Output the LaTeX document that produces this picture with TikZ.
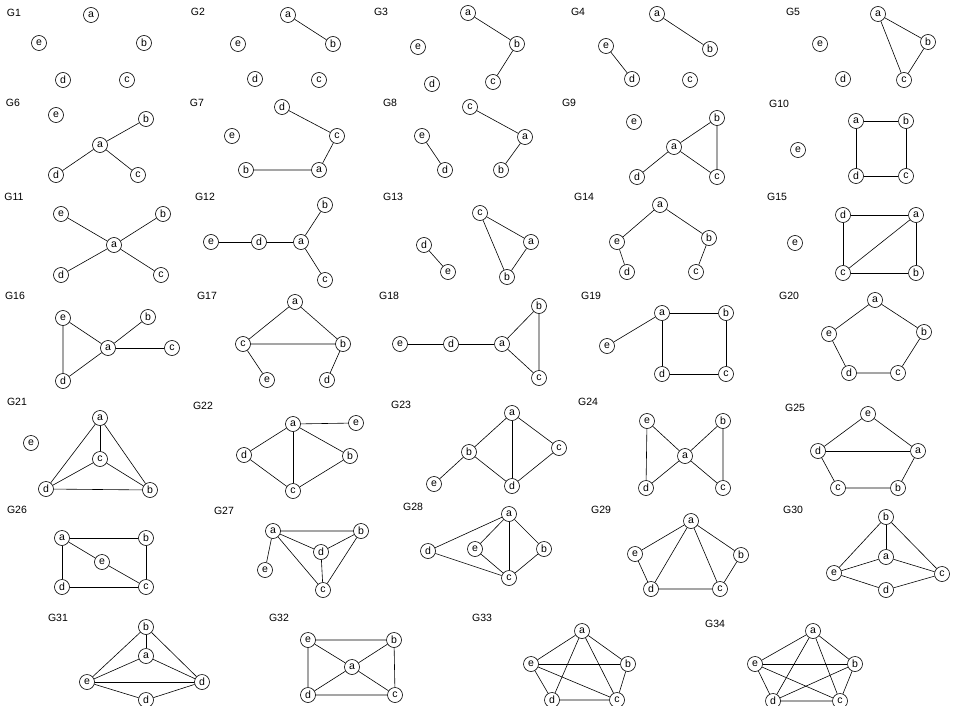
\documentclass[tikz,border=0pt]{standalone}
\usepackage{fontspec}
\setmainfont{Liberation Sans}
\usetikzlibrary{calc}

\tikzset{
  vtx/.style={circle, draw, fill=white, minimum size=15pt, inner sep=0pt, font=\fontsize{10.5}{10.5}\selectfont},
  glabel/.style={font=\fontsize{10.5}{10.5}\selectfont}
}

\begin{document}
\begin{tikzpicture}[x=1pt, y=-1pt, line width=0.6pt]
        \useasboundingbox (0,0) rectangle (953,706);

        % G1
        \node[glabel] (l1) at (14,13) {G1};
        \node[vtx] (g1a) at (91,15) {a};
        \node[vtx] (g1e) at (39,43) {e};
        \node[vtx] (g1b) at (144,43) {b};
        \node[vtx] (g1d) at (63,80) {d};
        \node[vtx] (g1c) at (127,80) {c};

        % G2
        \node[glabel] (l2) at (198,12) {G2};
        \node[vtx] (g2a) at (288,15) {a};
        \node[vtx] (g2e) at (238,44) {e};
        \node[vtx] (g2b) at (333,44) {b};
        \node[vtx] (g2d) at (255,79) {d};
        \node[vtx] (g2c) at (319,80) {c};
        \draw (g2a) -- (g2b);

        % G3
        \node[glabel] (l3) at (381,12) {G3};
        \node[vtx] (g3a) at (468,13) {a};
        \node[vtx] (g3b) at (517,44) {b};
        \node[vtx] (g3e) at (418,47) {e};
        \node[vtx] (g3d) at (432,84) {d};
        \node[vtx] (g3c) at (493,82) {c};
        \draw (g3a) -- (g3b) -- (g3c);

        % G4
        \node[glabel] (l4) at (578,12) {G4};
        \node[vtx] (g4a) at (657,14) {a};
        \node[vtx] (g4e) at (606,46) {e};
        \node[vtx] (g4b) at (710,49) {b};
        \node[vtx] (g4d) at (632,79) {d};
        \node[vtx] (g4c) at (690,80) {c};
        \draw (g4a) -- (g4b);
        \draw (g4e) -- (g4d);

        % G5
        \node[glabel] (l5) at (793,12) {G5};
        \node[vtx] (g5a) at (878,14) {a};
        \node[vtx] (g5b) at (928,42) {b};
        \node[vtx] (g5e) at (820,44) {e};
        \node[vtx] (g5c) at (904,80) {c};
        \node[vtx] (g5d) at (843,79) {d};
        \draw (g5a) -- (g5b) -- (g5c) -- (g5a);

        % G6
        \node[glabel] (l6) at (13,103) {G6};
        \node[vtx] (g6e) at (56,115) {e};
        \node[vtx] (g6b) at (146,119) {b};
        \node[vtx] (g6a) at (100,145) {a};
        \node[vtx] (g6d) at (56,175) {d};
        \node[vtx] (g6c) at (138,175) {c};
        \draw (g6a) -- (g6b);
        \draw (g6a) -- (g6d);
        \draw (g6a) -- (g6c);

        % G7
        \node[glabel] (l7) at (197,103) {G7};
        \node[vtx] (g7d) at (282,107) {d};
        \node[vtx] (g7c) at (337,136) {c};
        \node[vtx] (g7e) at (232,136) {e};
        \node[vtx] (g7b) at (246,170) {b};
        \node[vtx] (g7a) at (319,170) {a};
        \draw (g7d) -- (g7c) -- (g7a) -- (g7b);

        % G8
        \node[glabel] (l8) at (390,103) {G8};
        \node[vtx] (g8c) at (470,107) {c};
        \node[vtx] (g8a) at (525,137) {a};
        \node[vtx] (g8e) at (422,136) {e};
        \node[vtx] (g8d) at (445,170) {d};
        \node[vtx] (g8b) at (501,170) {b};
        \draw (g8c) -- (g8a) -- (g8b);
        \draw (g8e) -- (g8d);

        % G9
        \node[glabel] (l9) at (569,103) {G9};
        \node[vtx] (g9e) at (634,122) {e};
        \node[vtx] (g9b) at (717,118) {b};
        \node[vtx] (g9a) at (674,147) {a};
        \node[vtx] (g9d) at (637,177) {d};
        \node[vtx] (g9c) at (717,177) {c};
        \draw (g9a) -- (g9b) -- (g9c) -- (g9a);
        \draw (g9a) -- (g9d);

        % G10
        \node[glabel] (l10) at (779,104) {G10};
        \node[vtx] (g10a) at (856,121) {a};
        \node[vtx] (g10b) at (906,121) {b};
        \node[vtx] (g10e) at (798,150) {e};
        \node[vtx] (g10d) at (856,176) {d};
        \node[vtx] (g10c) at (906,176) {c};
        \draw (g10a) -- (g10b) -- (g10c) -- (g10d) -- (g10a);

        % G11
        \node[glabel] (l11) at (14,197) {G11};
        \node[vtx] (g11e) at (61,214) {e};
        \node[vtx] (g11b) at (163,214) {b};
        \node[vtx] (g11a) at (114,245) {a};
        \node[vtx] (g11d) at (61,275) {d};
        \node[vtx] (g11c) at (161,275) {c};
        \draw (g11a) -- (g11e);
        \draw (g11a) -- (g11b);
        \draw (g11a) -- (g11d);
        \draw (g11a) -- (g11c);

        % G12
        \node[glabel] (l12) at (205,197) {G12};
        \node[vtx] (g12b) at (325,205) {b};
        \node[vtx] (g12e) at (211,242) {e};
        \node[vtx] (g12d) at (259,242) {d};
        \node[vtx] (g12a) at (301,242) {a};
        \node[vtx] (g12c) at (325,280) {c};
        \draw (g12e) -- (g12d) -- (g12a);
        \draw (g12a) -- (g12b);
        \draw (g12a) -- (g12c);

        % G13
        \node[glabel] (l13) at (393,197) {G13};
        \node[vtx] (g13c) at (480,213) {c};
        \node[vtx] (g13a) at (531,242) {a};
        \node[vtx] (g13d) at (424,245) {d};
        \node[vtx] (g13e) at (448,272) {e};
        \node[vtx] (g13b) at (507,277) {b};
        \draw (g13c) -- (g13a) -- (g13b) -- (g13c);
        \draw (g13d) -- (g13e);

        % G14
        \node[glabel] (l14) at (584,197) {G14};
        \node[vtx] (g14a) at (660,205) {a};
        \node[vtx] (g14e) at (617,242) {e};
        \node[vtx] (g14b) at (709,238) {b};
        \node[vtx] (g14d) at (627,272) {d};
        \node[vtx] (g14c) at (696,272) {c};
        \draw (g14d) -- (g14e) -- (g14a) -- (g14b) -- (g14c);

        % G15
        \node[glabel] (l15) at (777,197) {G15};
        \node[vtx] (g15d) at (843,215) {d};
        \node[vtx] (g15a) at (916,215) {a};
        \node[vtx] (g15e) at (795,243) {e};
        \node[vtx] (g15c) at (843,273) {c};
        \node[vtx] (g15b) at (916,273) {b};
        \draw (g15d) -- (g15a) -- (g15b) -- (g15c) -- (g15d);
        \draw (g15a) -- (g15c);

        % G16
        \node[glabel] (l16) at (15,296) {G16};
        \node[vtx] (g16e) at (63,318) {e};
        \node[vtx] (g16b) at (148,317) {b};
        \node[vtx] (g16a) at (108,348) {a};
        \node[vtx] (g16c) at (172,348) {c};
        \node[vtx] (g16d) at (63,381) {d};
        \draw (g16e) -- (g16a) -- (g16d) -- (g16e);
        \draw (g16a) -- (g16b);
        \draw (g16a) -- (g16c);

        % G17
        \node[glabel] (l17) at (207,296) {G17};
        \node[vtx] (g17a) at (295,302) {a};
        \node[vtx] (g17c) at (243,344) {c};
        \node[vtx] (g17b) at (343,344) {b};
        \node[vtx] (g17e) at (267,380) {e};
        \node[vtx] (g17d) at (327,380) {d};
        \draw (g17a) -- (g17c) -- (g17b) -- (g17a);
        \draw (g17c) -- (g17e);
        \draw (g17b) -- (g17d);

        % G18
        \node[glabel] (l18) at (389,296) {G18};
        \node[vtx] (g18b) at (539,306) {b};
        \node[vtx] (g18e) at (400,344) {e};
        \node[vtx] (g18d) at (451,344) {d};
        \node[vtx] (g18a) at (502,344) {a};
        \node[vtx] (g18c) at (539,378) {c};
        \draw (g18e) -- (g18d) -- (g18a);
        \draw (g18a) -- (g18b) -- (g18c) -- (g18a);

        % G19
        \node[glabel] (l19) at (591,296) {G19};
        \node[vtx] (g19a) at (662,313) {a};
        \node[vtx] (g19b) at (726,313) {b};
        \node[vtx] (g19e) at (607,346) {e};
        \node[vtx] (g19d) at (662,374) {d};
        \node[vtx] (g19c) at (726,374) {c};
        \draw (g19a) -- (g19b) -- (g19c) -- (g19d) -- (g19a);
        \draw (g19a) -- (g19e);

        % G20
        \node[glabel] (l20) at (789,296) {G20};
        \node[vtx] (g20a) at (875,300) {a};
        \node[vtx] (g20e) at (829,334) {e};
        \node[vtx] (g20b) at (924,332) {b};
        \node[vtx] (g20d) at (849,373) {d};
        \node[vtx] (g20c) at (898,373) {c};
        \draw (g20a) -- (g20b) -- (g20c) -- (g20d) -- (g20e) -- (g20a);

        % G21
        \node[glabel] (l21) at (17,402) {G21};
        \node[vtx] (g21a) at (100,418) {a};
        \node[vtx] (g21e) at (31,443) {e};
        \node[vtx] (g21c) at (100,459) {c};
        \node[vtx] (g21d) at (46,489) {d};
        \node[vtx] (g21b) at (150,490) {b};
        \draw (g21a) -- (g21c);
        \draw (g21a) -- (g21d);
        \draw (g21a) -- (g21b);
        \draw (g21c) -- (g21d) -- (g21b) -- (g21c);

        % G22
        \node[glabel] (l22) at (203,406) {G22};
        \node[vtx] (g22a) at (293,424) {a};
        \node[vtx] (g22e) at (356,423) {e};
        \node[vtx] (g22d) at (244,455) {d};
        \node[vtx] (g22b) at (350,456) {b};
        \node[vtx] (g22c) at (293,491) {c};
        \draw (g22a) -- (g22e);
        \draw (g22a) -- (g22d) -- (g22c) -- (g22b) -- (g22a);
        \draw (g22a) -- (g22c);

        % G23
        \node[glabel] (l23) at (401,405) {G23};
        \node[vtx] (g23a) at (512,413) {a};
        \node[vtx] (g23b) at (469,452) {b};
        \node[vtx] (g23c) at (559,448) {c};
        \node[vtx] (g23e) at (434,484) {e};
        \node[vtx] (g23d) at (512,486) {d};
        \draw (g23a) -- (g23b) -- (g23d) -- (g23c) -- (g23a);
        \draw (g23a) -- (g23d);
        \draw (g23b) -- (g23e);

        % G24
        \node[glabel] (l24) at (588,402) {G24};
        \node[vtx] (g24e) at (647,421) {e};
        \node[vtx] (g24b) at (723,421) {b};
        \node[vtx] (g24a) at (685,456) {a};
        \node[vtx] (g24d) at (646,488) {d};
        \node[vtx] (g24c) at (723,488) {c};
        \draw (g24e) -- (g24a) -- (g24d) -- (g24e);
        \draw (g24b) -- (g24a) -- (g24c) -- (g24b);

        % G25
        \node[glabel] (l25) at (795,408) {G25};
        \node[vtx] (g25e) at (868,414) {e};
        \node[vtx] (g25d) at (818,451) {d};
        \node[vtx] (g25a) at (918,451) {a};
        \node[vtx] (g25c) at (838,488) {c};
        \node[vtx] (g25b) at (898,488) {b};
        \draw (g25e) -- (g25a) -- (g25b) -- (g25c) -- (g25d) -- (g25e);
        \draw (g25d) -- (g25a);

        % G26
        \node[glabel] (l26) at (17,510) {G26};
        \node[vtx] (g26a) at (62,538) {a};
        \node[vtx] (g26b) at (146,538) {b};
        \node[vtx] (g26e) at (102,562) {e};
        \node[vtx] (g26d) at (62,587) {d};
        \node[vtx] (g26c) at (146,587) {c};
        \draw (g26a) -- (g26b) -- (g26c) -- (g26d) -- (g26a);
        \draw (g26a) -- (g26e) -- (g26c);

        % G27
        \node[glabel] (l27) at (224,511) {G27};
        \node[vtx] (g27a) at (273,531) {a};
        \node[vtx] (g27b) at (361,531) {b};
        \node[vtx] (g27d) at (321,552) {d};
        \node[vtx] (g27e) at (265,570) {e};
        \node[vtx] (g27c) at (323,590) {c};
        \draw (g27a) -- (g27b) -- (g27c) -- (g27a);
        \draw (g27a) -- (g27d) -- (g27b);
        \draw (g27d) -- (g27c);
        \draw (g27a) -- (g27e);

        % G28
        \node[glabel] (l28) at (413,507) {G28};
        \node[vtx] (g28a) at (509,514) {a};
        \node[vtx] (g28d) at (428,551) {d};
        \node[vtx] (g28e) at (475,549) {e};
        \node[vtx] (g28b) at (544,549) {b};
        \node[vtx] (g28c) at (509,578) {c};
        \draw (g28a) -- (g28d) -- (g28c) -- (g28b) -- (g28a);
        \draw (g28a) -- (g28e) -- (g28c);
        \draw (g28a) -- (g28c);

        % G29
        \node[glabel] (l29) at (601,510) {G29};
        \node[vtx] (g29a) at (691,521) {a};
        \node[vtx] (g29e) at (635,554) {e};
        \node[vtx] (g29b) at (741,555) {b};
        \node[vtx] (g29d) at (651,589) {d};
        \node[vtx] (g29c) at (720,589) {c};
        \draw (g29a) -- (g29b) -- (g29c) -- (g29d) -- (g29e) -- (g29a);
        \draw (g29a) -- (g29d);
        \draw (g29a) -- (g29c);

        % G30
        \node[glabel] (l30) at (793,510) {G30};
        \node[vtx] (g30b) at (886,517) {b};
        \node[vtx] (g30a) at (886,557) {a};
        \node[vtx] (g30e) at (834,573) {e};
        \node[vtx] (g30c) at (942,574) {c};
        \node[vtx] (g30d) at (886,590) {d};
        \draw (g30b) -- (g30e) -- (g30d) -- (g30c) -- (g30b);
        \draw (g30b) -- (g30a);
        \draw (g30e) -- (g30a) -- (g30c);

        % G31
        \node[glabel] (l31) at (58,618) {G31};
        \node[vtx] (g31b) at (146,627) {b};
        \node[vtx] (g31a) at (146,656) {a};
        \node[vtx] (g31e) at (87,682) {e};
        \node[vtx] (g31d) at (202,682) {d};
        \node[vtx] (g31f) at (146,700) {d};
        \draw (g31b) -- (g31e) -- (g31f) -- (g31d) -- (g31b);
        \draw (g31b) -- (g31a);
        \draw (g31e) -- (g31a) -- (g31d);
        \draw (g31e) -- (g31d);

        % G32
        \node[glabel] (l32) at (279,618) {G32};
        \node[vtx] (g32e) at (308,640) {e};
        \node[vtx] (g32b) at (394,640) {b};
        \node[vtx] (g32a) at (352,667) {a};
        \node[vtx] (g32d) at (308,695) {d};
        \node[vtx] (g32c) at (395,695) {c};
        \draw (g32e) -- (g32b) -- (g32c) -- (g32d) -- (g32e);
        \draw (g32e) -- (g32a) -- (g32c);
        \draw (g32b) -- (g32a) -- (g32d);

        % G33
        \node[glabel] (l33) at (482,618) {G33};
        \node[vtx] (g33a) at (582,631) {a};
        \node[vtx] (g33e) at (531,664) {e};
        \node[vtx] (g33b) at (628,664) {b};
        \node[vtx] (g33d) at (552,700) {d};
        \node[vtx] (g33c) at (617,700) {c};
        \draw (g33a) -- (g33b) -- (g33c) -- (g33d) -- (g33e) -- (g33a);
        \draw (g33e) -- (g33b);
        \draw (g33e) -- (g33c);
        \draw (g33a) -- (g33d);
        \draw (g33a) -- (g33c);

        % G34
        \node[glabel] (l34) at (715,624) {G34};
        \node[vtx] (g34a) at (813,631) {a};
        \node[vtx] (g34e) at (755,664) {e};
        \node[vtx] (g34b) at (855,664) {b};
        \node[vtx] (g34d) at (773,701) {d};
        \node[vtx] (g34c) at (840,701) {c};
        \draw (g34a) -- (g34b) -- (g34c) -- (g34d) -- (g34e) -- (g34a);
        \draw (g34e) -- (g34b);
        \draw (g34e) -- (g34c);
        \draw (g34a) -- (g34d);
        \draw (g34a) -- (g34c);
        \draw (g34b) -- (g34d);
    \end{tikzpicture}
\end{document}
